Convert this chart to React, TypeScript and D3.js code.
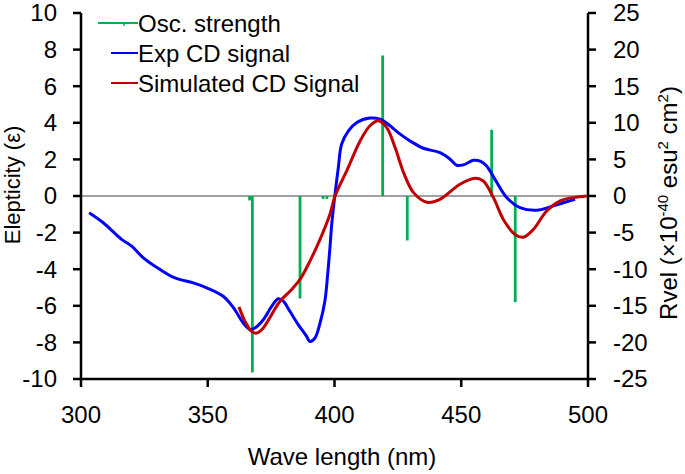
import React from "react";
import * as d3 from "d3";

const expWave = [303.2, 308.8, 316, 320, 324.6, 331.2, 337.1, 344.3, 349.6, 356.1, 360.1, 364, 366.7, 368.6, 371.9, 375.2, 377.8, 379.8, 382.4, 385.7, 389, 390.3, 392.3, 394.3, 396.2, 397.3, 398.2, 398.9, 399.9, 401.5, 402.8, 405.5, 408.8, 414, 418, 421.9, 425.9, 429.8, 435.1, 441.6, 445.6, 448.2, 450.8, 454.8, 457.5, 460, 463.3, 468, 473.2, 479.8, 485, 490.3, 494.9];
const expVal = [-0.91, -1.46, -2.37, -2.74, -3.38, -4.02, -4.48, -4.75, -5.02, -5.48, -6.1, -6.94, -7.3, -7.21, -6.76, -6.03, -5.61, -5.75, -6.3, -7.03, -7.67, -7.95, -7.76, -6.94, -5.75, -4.29, -2.83, -1.55, -0.27, 1.55, 2.83, 3.56, 4.02, 4.26, 4.2, 3.84, 3.38, 3.01, 2.61, 2.37, 2.01, 1.68, 1.7, 1.95, 1.9, 1.64, 0.91, -0.09, -0.64, -0.78, -0.6, -0.37, -0.18];

const simWave = [362.3, 364.7, 367.3, 369.3, 371.9, 375.2, 378.5, 383.1, 386.4, 390.3, 394.3, 398.2, 400.2, 404.8, 410.1, 414, 417.3, 420.6, 423.9, 427.2, 431.1, 436.4, 441.6, 449.5, 455.4, 458.7, 462.7, 466.6, 471.2, 474.5, 478.5, 483.7, 489, 494.2, 499.5];
const simVal = [-6.06, -6.85, -7.4, -7.49, -7.21, -6.48, -5.75, -5.11, -4.56, -3.56, -2.37, -1.0, 0, 1.37, 3.01, 3.84, 4.11, 3.74, 2.65, 1.3, 0.2, -0.34, -0.18, 0.64, 0.97, 0.82, -0.09, -1.28, -2.1, -2.25, -1.82, -0.82, -0.27, -0.09, 0];

const oscWave = [366.5, 367.6, 386.4, 395.5, 397, 419, 428.7, 462, 471.3];
const oscVal = [-0.6, -24.1, -14, -0.4, -0.4, 19.2, -6.07, 9.04, -14.5];

const xTicks = [300, 350, 400, 450, 500];
const yLeftTicks = [-10, -8, -6, -4, -2, 0, 2, 4, 6, 8, 10];
const yRightTicks = [-25, -20, -15, -10, -5, 0, 5, 10, 15, 20, 25];

const legendLabels = ["Osc. strength", "Exp CD signal", "Simulated CD Signal"];
const legendColors = ["#00b050", "#0000ff", "#c00000"];

const W = 685;
const H = 474;
const FONT = "'Liberation Sans', Arial, sans-serif";

export default function App() {
  const x = d3.scaleLinear().domain([300, 500]).range([81, 588]);
  const yL = d3.scaleLinear().domain([-10, 10]).range([379, 13]);
  const yR = d3.scaleLinear().domain([-25, 25]).range([379, 13]);

  const line = d3
    .line<[number, number]>()
    .x((d) => x(d[0]))
    .y((d) => yL(d[1]))
    .curve(d3.curveCatmullRom.alpha(0.5));

  const expPts = expWave.map((w, i) => [w, expVal[i]] as [number, number]);
  const simPts = simWave.map((w, i) => [w, simVal[i]] as [number, number]);

  return (
    <svg
      width={W}
      height={H}
      style={{ position: "absolute", left: 0, top: 0, background: "#fff" }}
      fontFamily={FONT}
    >
      {/* zero line */}
      <line x1={x(300)} x2={x(500)} y1={yL(0)} y2={yL(0)} stroke="#444" strokeWidth={1} />

      {/* oscillator sticks */}
      {oscWave.map((w, i) => (
        <line
          key={"o" + i}
          x1={x(w)}
          x2={x(w)}
          y1={yR(0)}
          y2={yR(oscVal[i])}
          stroke={legendColors[0]}
          strokeWidth={2.8}
        />
      ))}

      <path d={line(expPts) || ""} fill="none" stroke={legendColors[1]} strokeWidth={3} strokeLinejoin="round" />
      <path d={line(simPts) || ""} fill="none" stroke={legendColors[2]} strokeWidth={3} strokeLinejoin="round" />

      {/* left axis */}
      <line x1={81} x2={81} y1={yL(10)} y2={yL(-10)} stroke="#000" strokeWidth={2.5} />
      {yLeftTicks.map((t) => (
        <g key={"l" + t}>
          <line x1={73} x2={81} y1={yL(t)} y2={yL(t)} stroke="#000" strokeWidth={2.5} />
          <text x={57} y={yL(t)} dy="0.35em" textAnchor="end" fontSize={24} fill="#000">
            {t}
          </text>
        </g>
      ))}

      {/* right axis */}
      <line x1={588} x2={588} y1={yR(25)} y2={yR(-25)} stroke="#000" strokeWidth={2.5} />
      {yRightTicks.map((t) => (
        <g key={"r" + t}>
          <line x1={588} x2={596} y1={yR(t)} y2={yR(t)} stroke="#000" strokeWidth={2.5} />
          <text x={613} y={yR(t)} dy="0.35em" textAnchor="start" fontSize={24} fill="#000">
            {t}
          </text>
        </g>
      ))}

      {/* bottom axis */}
      <line x1={x(300)} x2={x(500)} y1={379} y2={379} stroke="#000" strokeWidth={2.5} />
      {xTicks.map((t) => (
        <g key={"b" + t}>
          <line x1={x(t)} x2={x(t)} y1={379} y2={387} stroke="#000" strokeWidth={2.5} />
          <text x={x(t)} y={423} textAnchor="middle" fontSize={24} fill="#000">
            {t}
          </text>
        </g>
      ))}

      {/* axis titles */}
      <text x={342} y={465} textAnchor="middle" fontSize={24} fill="#000">
        Wave length (nm)
      </text>
      <text transform="translate(20,185) rotate(-90)" textAnchor="middle" fontSize={22} fill="#000">
        Elepticity (ε)
      </text>
      <text transform="translate(677,203) rotate(-90)" textAnchor="middle" fontSize={24} fill="#000">
        <tspan>Rvel (×10</tspan>
        <tspan fontSize={15} dy={-9}>-40</tspan>
        <tspan dy={9}> esu</tspan>
        <tspan fontSize={15} dy={-9}>2</tspan>
        <tspan dy={9}> cm</tspan>
        <tspan fontSize={15} dy={-9}>2</tspan>
        <tspan dy={9}>)</tspan>
      </text>

      {/* legend */}
      <line x1={98} x2={138} y1={23} y2={23} stroke={legendColors[0]} strokeWidth={2} />
      <line x1={124} x2={124} y1={23} y2={26} stroke={legendColors[0]} strokeWidth={1.5} />
      <line x1={111} x2={138} y1={53} y2={53} stroke={legendColors[1]} strokeWidth={2} />
      <line x1={111} x2={138} y1={83} y2={83} stroke={legendColors[2]} strokeWidth={2} />
      {legendLabels.map((l, i) => (
        <text key={l} x={138} y={32 + i * 30} fontSize={24} fill="#000">
          {l}
        </text>
      ))}
    </svg>
  );
}
